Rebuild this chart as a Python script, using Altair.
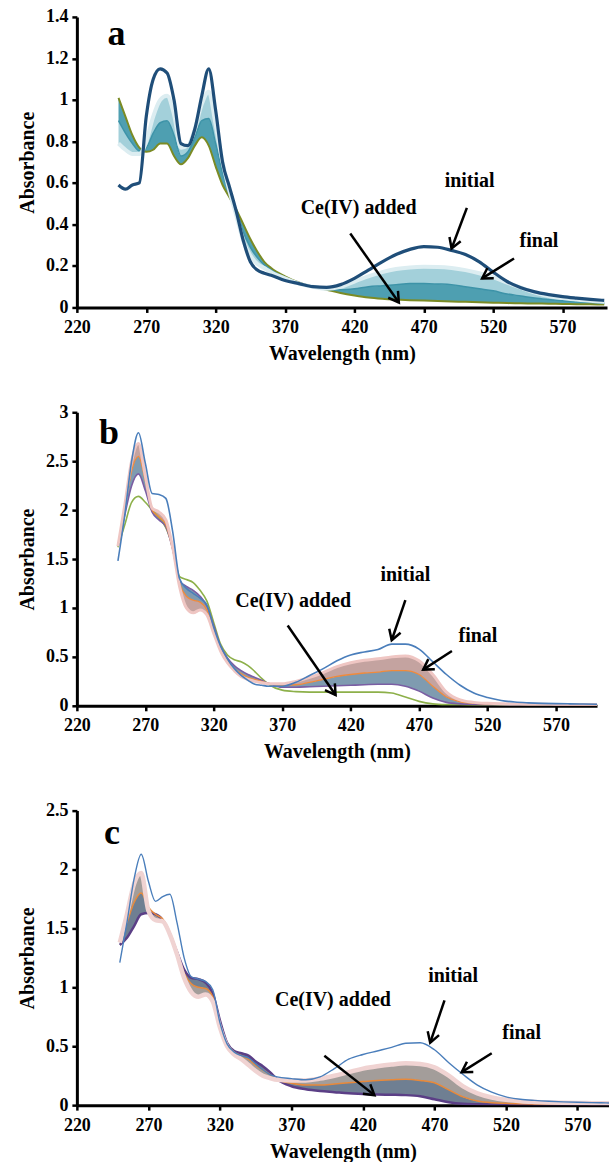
import math
import altair as alt
import pandas as pd

# ---------------- data ----------------
WL = [250, 255, 260, 265, 270, 275, 280, 285, 290, 295, 300, 305, 310, 315, 320, 325,
      330, 335, 340, 345, 350, 355, 360, 370, 380, 390, 400, 410, 420, 430, 440, 450,
      460, 470, 480, 490, 500, 510, 520, 530, 540, 550, 560, 570, 580, 590, 600]
XTICKS = [220, 270, 320, 370, 420, 470, 520, 570]

# panel a
A_INIT = [0.59, 0.57, 0.59, 0.60, 0.92, 1.10, 1.15, 1.13, 1.00, 0.79, 0.78, 0.86, 1.02, 1.15, 0.95, 0.70,
          0.58, 0.46, 0.32, 0.22, 0.18, 0.165, 0.155,
          0.13, 0.115, 0.10, 0.097, 0.11, 0.14, 0.18, 0.22, 0.255, 0.28, 0.293, 0.29, 0.275, 0.255, 0.22,
          0.17, 0.125, 0.095, 0.075, 0.062, 0.052, 0.045, 0.039, 0.034]
A_FIRST = [1.01, 0.92, 0.83, 0.77, 0.75, 0.76, 0.79, 0.79, 0.73, 0.69, 0.72, 0.78, 0.82, 0.78, 0.68, 0.59,
           0.53, 0.47, 0.40, 0.33, 0.27, 0.22, 0.19,
           0.15, 0.12, 0.10, 0.085, 0.07, 0.058, 0.048, 0.042, 0.038, 0.035, 0.033, 0.031, 0.029, 0.027, 0.025,
           0.023, 0.021, 0.02, 0.019, 0.018, 0.017, 0.016, 0.015, 0.014]
A_MID = [0.90, 0.84, 0.79, 0.755, 0.77, 0.84, 0.89, 0.90, 0.83, 0.73, 0.75, 0.82, 0.90, 0.91, 0.79, 0.65,
         0.55, 0.455, 0.36, 0.29, 0.24, 0.205, 0.18,
         0.145, 0.118, 0.10, 0.087, 0.085, 0.09, 0.10, 0.105, 0.11, 0.115, 0.115, 0.113, 0.11, 0.10, 0.09,
         0.08, 0.065, 0.055, 0.045, 0.038, 0.032, 0.028, 0.025, 0.022]
A_FINAL = [0.79, 0.76, 0.74, 0.74, 0.80, 0.92, 1.00, 1.02, 0.93, 0.77, 0.78, 0.86, 0.98, 1.04, 0.88, 0.70,
           0.56, 0.44, 0.32, 0.25, 0.21, 0.19, 0.17,
           0.14, 0.115, 0.10, 0.09, 0.10, 0.125, 0.15, 0.17, 0.185, 0.193, 0.196, 0.195, 0.19, 0.18, 0.165,
           0.145, 0.12, 0.095, 0.072, 0.055, 0.045, 0.038, 0.032, 0.028]

# panel b
B_INIT = [1.48, 1.95, 2.50, 2.79, 2.48, 2.17, 2.16, 2.12, 1.78, 1.30, 1.20, 1.15, 1.10, 1.03, 0.80, 0.61,
          0.48, 0.38, 0.31, 0.26, 0.22, 0.21, 0.20,
          0.20, 0.24, 0.31, 0.38, 0.46, 0.52, 0.55, 0.575, 0.63, 0.63, 0.58, 0.45, 0.32, 0.21, 0.13,
          0.085, 0.055, 0.038, 0.03, 0.025, 0.022, 0.02, 0.018, 0.016]
B_FIRST = [1.62, 1.85, 2.08, 2.14, 2.08, 2.00, 1.92, 1.82, 1.62, 1.32, 1.29, 1.26, 1.18, 1.07, 0.85, 0.63,
           0.52, 0.47, 0.45, 0.41, 0.35, 0.28, 0.22,
           0.16, 0.145, 0.14, 0.14, 0.14, 0.14, 0.14, 0.14, 0.13, 0.09, 0.045, 0.02, 0.012, 0.01, 0.009,
           0.008, 0.007, 0.007, 0.006, 0.006, 0.005, 0.005, 0.005, 0.005]
B_SECOND = [1.64, 1.95, 2.25, 2.37, 2.20, 1.98, 1.90, 1.83, 1.60, 1.28, 1.22, 1.18, 1.12, 1.02, 0.82, 0.61,
            0.49, 0.41, 0.36, 0.32, 0.29, 0.26, 0.23,
            0.19, 0.19, 0.195, 0.20, 0.205, 0.21, 0.215, 0.22, 0.22, 0.20, 0.15, 0.08, 0.035, 0.02, 0.015,
            0.012, 0.01, 0.009, 0.008, 0.008, 0.007, 0.007, 0.006, 0.006]
B_MID = [1.64, 2.00, 2.40, 2.55, 2.30, 2.00, 1.93, 1.85, 1.60, 1.25, 1.12, 1.08, 1.06, 0.98, 0.78, 0.58,
         0.46, 0.38, 0.33, 0.29, 0.27, 0.25, 0.23,
         0.21, 0.215, 0.24, 0.27, 0.30, 0.32, 0.335, 0.345, 0.36, 0.36, 0.32, 0.20, 0.09, 0.04, 0.025,
         0.02, 0.017, 0.015, 0.013, 0.012, 0.011, 0.01, 0.01, 0.01]
B_FINAL = [1.63, 2.05, 2.50, 2.68, 2.35, 2.02, 1.98, 1.90, 1.62, 1.22, 1.00, 0.95, 0.98, 0.93, 0.74, 0.56,
           0.44, 0.36, 0.30, 0.27, 0.25, 0.235, 0.225,
           0.225, 0.25, 0.29, 0.34, 0.40, 0.44, 0.465, 0.48, 0.50, 0.51, 0.46, 0.32, 0.14, 0.06, 0.035,
           0.025, 0.02, 0.018, 0.016, 0.015, 0.014, 0.013, 0.012, 0.012]

# panel c
C_INIT = [1.21, 1.55, 1.92, 2.13, 1.90, 1.73, 1.77, 1.79, 1.55, 1.25, 1.09, 1.07, 1.05, 0.98, 0.70, 0.52,
          0.45, 0.42, 0.40, 0.35, 0.30, 0.26, 0.24,
          0.225, 0.215, 0.24, 0.31, 0.39, 0.43, 0.46, 0.49, 0.525, 0.53, 0.47, 0.36, 0.26, 0.17, 0.11,
          0.07, 0.05, 0.04, 0.033, 0.028, 0.024, 0.021, 0.019, 0.017]
C_FIRST = [1.36, 1.42, 1.52, 1.62, 1.63, 1.62, 1.57, 1.45, 1.30, 1.15, 1.08, 1.07, 1.04, 0.95, 0.72, 0.53,
           0.46, 0.44, 0.42, 0.37, 0.33, 0.28, 0.22,
           0.16, 0.135, 0.12, 0.11, 0.10, 0.095, 0.09, 0.088, 0.085, 0.075, 0.05, 0.025, 0.012, 0.008, 0.006,
           0.005, 0.005, 0.004, 0.004, 0.004, 0.004, 0.003, 0.003, 0.003]
C_MID = [1.40, 1.55, 1.72, 1.80, 1.68, 1.62, 1.58, 1.47, 1.30, 1.12, 1.03, 1.00, 0.99, 0.92, 0.69, 0.52,
         0.45, 0.42, 0.39, 0.34, 0.30, 0.26, 0.22,
         0.185, 0.17, 0.17, 0.18, 0.19, 0.20, 0.21, 0.215, 0.22, 0.21, 0.19, 0.13, 0.07, 0.035, 0.02,
         0.015, 0.012, 0.01, 0.01, 0.009, 0.009, 0.008, 0.008, 0.008]
C_FINAL = [1.38, 1.62, 1.88, 1.97, 1.65, 1.57, 1.56, 1.45, 1.28, 1.08, 0.96, 0.92, 0.94, 0.88, 0.66, 0.50,
           0.43, 0.39, 0.34, 0.29, 0.25, 0.23, 0.215,
           0.21, 0.21, 0.225, 0.25, 0.28, 0.31, 0.33, 0.345, 0.355, 0.35, 0.32, 0.25, 0.16, 0.10, 0.065,
           0.045, 0.033, 0.027, 0.023, 0.02, 0.018, 0.017, 0.016, 0.015]

# annotations (data units)
LABELS = ["initial", "final", "Ce(IV) added"]
A_LAB_X = [503, 553, 423]; A_LAB_Y = [0.61, 0.32, 0.48]
A_AR_X1 = [501, 535, 417]; A_AR_Y1 = [0.48, 0.236, 0.356]
A_AR_X2 = [490, 512, 452]; A_AR_Y2 = [0.284, 0.14, 0.024]
B_LAB_X = [460, 513, 378]; B_LAB_Y = [1.34, 0.71, 1.07]
B_AR_X1 = [460, 494, 374]; B_AR_Y1 = [1.08, 0.56, 0.82]
B_AR_X2 = [450, 473, 409]; B_AR_Y2 = [0.67, 0.37, 0.11]
C_LAB_X = [483, 531, 399]; C_LAB_Y = [1.10, 0.61, 0.89]
C_AR_X1 = [477, 510, 393]; C_AR_Y1 = [0.89, 0.44, 0.42]
C_AR_X2 = [467, 489, 428]; C_AR_Y2 = [0.53, 0.28, 0.085]

FONT = "Liberation Serif, Times New Roman, serif"
CHEVRON = "M -0.6 1 L 0 0 L 0.6 1"


def make_panel(letter, letter_xy, init, init_style, family, bands, lab, ymax, yticks, xmax,
               width, height):
    xs = alt.Scale(domain=[220, xmax], nice=False, zero=False)
    ys = alt.Scale(domain=[0, ymax], nice=False, zero=False)
    xax = alt.Axis(values=XTICKS, title="Wavelength (nm)", grid=False, labelFont=FONT,
                   labelFontWeight="bold", labelFontSize=18, labelColor="black", labelPadding=6,
                   labelFlush=False, labelOverlap=False, tickSize=5, tickWidth=2.5, tickColor="black",
                   domainColor="black", domainWidth=3, titleFont=FONT, titleFontWeight="bold",
                   titleFontSize=20, titleColor="black", titlePadding=7)
    yax = alt.Axis(values=yticks, format="~g", title="Absorbance", grid=False, labelFont=FONT,
                   labelFontWeight="bold", labelFontSize=18, labelColor="black", labelPadding=4,
                   labelFlush=False, labelOverlap=False, tickSize=5, tickWidth=2.5, tickColor="black",
                   domainColor="black", domainWidth=3, titleFont=FONT, titleFontWeight="bold",
                   titleFontSize=20, titleColor="black", titlePadding=8)

    def X(f):
        return alt.X(f, type="quantitative", scale=xs, axis=xax)

    def Y(f):
        return alt.Y(f, type="quantitative", scale=ys, axis=yax)

    layers = []
    for lo, hi, col in bands:
        df = pd.DataFrame({"wl": WL, "lo": lo, "hi": hi})
        layers.append(alt.Chart(df).mark_area(color=col, opacity=1, interpolate="monotone", clip=True)
                      .encode(x=X("wl"), y=Y("lo"), y2="hi:Q"))
    for vals, col, sw in family + [(init,) + init_style]:
        df = pd.DataFrame({"wl": WL, "a": vals})
        layers.append(alt.Chart(df).mark_line(color=col, strokeWidth=sw, interpolate="monotone", clip=True)
                      .encode(x=X("wl"), y=Y("a")))

    lx, ly, x1, y1, x2, y2 = lab
    sx = width / (xmax - 220.0)
    sy = height / float(ymax)
    angs = []
    for a, b, c, d in zip(x1, y1, x2, y2):
        dx = (c - a) * sx
        dy = -(d - b) * sy
        angs.append(math.degrees(math.atan2(dx, -dy)) % 360)
    ann = pd.DataFrame({"t": LABELS, "lx": lx, "ly": ly, "x1": x1, "y1": y1, "x2": x2, "y2": y2, "ang": angs})
    layers.append(alt.Chart(ann).mark_rule(color="black", strokeWidth=2.5)
                  .encode(x=X("x1"), y=Y("y1"), x2="x2:Q", y2="y2:Q"))
    layers.append(alt.Chart(ann).mark_point(shape=CHEVRON, filled=False, stroke="black", strokeWidth=2.5,
                                            size=400, opacity=1, strokeJoin="miter")
                  .encode(x=X("x2"), y=Y("y2"), angle=alt.Angle("ang:Q", scale=None)))
    layers.append(alt.Chart(ann).mark_text(font=FONT, fontWeight="bold", fontSize=20, color="black",
                                           align="center", baseline="middle")
                  .encode(x=X("lx"), y=Y("ly"), text="t:N"))
    let = pd.DataFrame({"t": [letter], "x": [letter_xy[0]], "y": [letter_xy[1]]})
    layers.append(alt.Chart(let).mark_text(font=FONT, fontWeight="bold", fontSize=36, color="black",
                                           align="center", baseline="middle")
                  .encode(x=X("x"), y=Y("y"), text="t:N"))
    return alt.layer(*layers).properties(width=width, height=height)


pa = make_panel(
    "a", (248.5, 1.32), A_INIT, ("#1f4e79", 3.2),
    [(A_FIRST, "#7b8b25", 2.0), (A_MID, "#3d93a8", 1.5), (A_FINAL, "#dcedf1", 4.0)],
    [(A_FIRST, A_MID, "#4e9fb1"), (A_MID, A_FINAL, "#a3d0da")],
    (A_LAB_X, A_LAB_Y, A_AR_X1, A_AR_Y1, A_AR_X2, A_AR_Y2),
    1.4, [0, 0.2, 0.4, 0.6, 0.8, 1, 1.2, 1.4], 602, 531, 291)

pb = make_panel(
    "b", (243.5, 2.79), B_INIT, ("#4a7ebb", 1.6),
    [(B_FIRST, "#8db04a", 1.6), (B_SECOND, "#7a5ea3", 1.6), (B_MID, "#f08a3c", 1.3), (B_FINAL, "#efc6c3", 3.0)],
    [(B_SECOND, B_MID, "#7f9bb0"), (B_MID, B_FINAL, "#c4a3a0")],
    (B_LAB_X, B_LAB_Y, B_AR_X1, B_AR_Y1, B_AR_X2, B_AR_Y2),
    3, [0, 0.5, 1, 1.5, 2, 2.5, 3], 600, 521, 294)

pc = make_panel(
    "c", (244.5, 2.31), C_INIT, ("#4a7ebb", 1.4),
    [(C_FIRST, "#5b3f86", 2.5), (C_MID, "#e8893a", 1.5), (C_FINAL, "#f0d3d2", 4.5)],
    [(C_FIRST, C_MID, "#6f7f92"), (C_MID, C_FINAL, "#a39d9a")],
    (C_LAB_X, C_LAB_Y, C_AR_X1, C_AR_Y1, C_AR_X2, C_AR_Y2),
    2.5, [0, 0.5, 1, 1.5, 2, 2.5], 592, 533, 295)

chart = (alt.vconcat(pa, pb, pc, spacing=40)
         .properties(padding={"left": 17, "top": 7, "right": 0, "bottom": 0}, background="white")
         .configure_view(stroke=None))

chart.save("out.html", embed_options={"renderer": "svg", "actions": False})
